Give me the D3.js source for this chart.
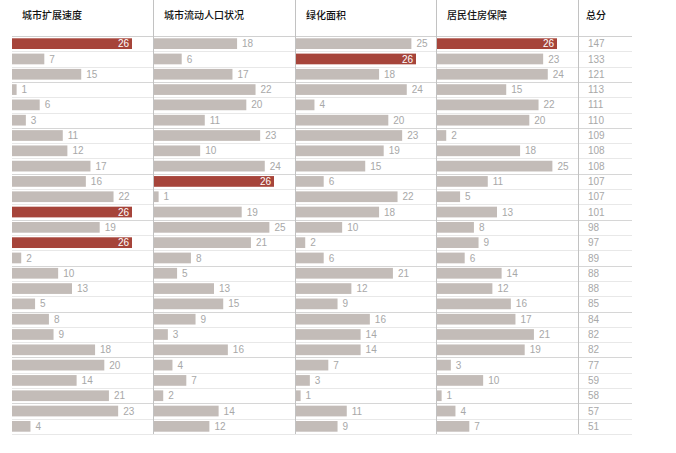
<!DOCTYPE html>
<html><head><meta charset="utf-8">
<script src="https://cdn.jsdelivr.net/npm/d3@7"></script>
<style>
body{margin:0;background:#fff;}
svg{display:block;font-family:"Liberation Sans","Noto Sans CJK SC",Arial,sans-serif;}
</style></head>
<body><svg id="c" width="676" height="453"></svg>
<script>
const headers = ["城市扩展速度","城市流动人口状况","绿化面积","居民住房保障"];
const totalHeader = "总分";
const expansion = [26,7,15,1,6,3,11,12,17,16,22,26,19,26,2,10,13,5,8,9,18,20,14,21,23,4];
const floating = [18,6,17,22,20,11,23,10,24,26,1,19,25,21,8,5,13,15,9,3,16,4,7,2,14,12];
const green = [25,26,18,24,4,20,23,19,15,6,22,18,10,2,6,21,12,9,16,14,14,7,3,1,11,9];
const housing = [26,23,24,15,22,20,2,18,25,11,5,13,8,9,6,14,12,16,17,21,19,3,10,1,4,7];
const totals = [147,133,121,113,111,110,109,108,108,107,107,101,98,97,89,88,88,85,84,82,82,77,59,58,57,51];
const maxValue = 26;

(function () {
const series = [expansion, floating, green, housing];
const svg = d3.select("#c");
const n = totals.length;
const yTop = 36, yBottom = 434;
const colStarts = [12, 154, 296, 437];
const totalX = 578;
const xRight = 632;
const y = d3.scaleBand().domain(d3.range(n)).range([yTop, yBottom]).paddingInner(0.3).paddingOuter(0.15);
const x = d3.scaleLinear().domain([0, maxValue]).range([0, 120]);
const grey = "#c3bcb8", red = "#a6443a";

// row lines
const lineYs = d3.range(n + 1).map(i => yTop + i * (yBottom - yTop) / n);
svg.append("g").selectAll("line").data(lineYs).join("line")
  .attr("x1", 12).attr("x2", xRight)
  .attr("y1", d => Math.round(d) + 0.5).attr("y2", d => Math.round(d) + 0.5)
  .attr("stroke", (d, i) => i === 0 ? "#d0d0d0" : (i % 3 === 0 ? "#d6d6d6" : "#e8e8e8"))
  .attr("stroke-width", 1);

// vertical separators
svg.append("g").selectAll("line").data([153, 295, 436, totalX]).join("line")
  .attr("x1", d => d + 0.5).attr("x2", d => d + 0.5)
  .attr("y1", 0).attr("y2", yBottom)
  .attr("stroke", "#c2c2c2").attr("stroke-width", 1);

// headers
svg.append("g").selectAll("text").data(headers).join("text")
  .attr("x", (d, i) => colStarts[i] + 10).attr("y", 19)
  .attr("font-size", 10).attr("fill", "#111").attr("font-weight", 500)
  .attr("font-family", "'Noto Sans CJK SC',sans-serif")
  .text(d => d);
svg.append("text").attr("x", 586).attr("y", 19)
  .attr("font-size", 10).attr("fill", "#111").attr("font-weight", 500)
  .attr("font-family", "'Noto Sans CJK SC',sans-serif")
  .text(totalHeader);

// bars
series.forEach((vals, ci) => {
  const g = svg.append("g").attr("transform", `translate(${colStarts[ci]},0)`);
  g.selectAll("rect").data(vals).join("rect")
    .attr("x", 0).attr("y", (d, i) => y(i))
    .attr("width", d => x(d)).attr("height", y.bandwidth())
    .attr("fill", d => d === maxValue ? red : grey);
  g.selectAll("text").data(vals).join("text")
    .attr("x", d => d === maxValue ? x(d) - 3 : x(d) + 5)
    .attr("y", (d, i) => y(i) + y.bandwidth() / 2)
    .attr("dy", "0.36em")
    .attr("text-anchor", d => d === maxValue ? "end" : "start")
    .attr("font-size", 10)
    .attr("fill", d => d === maxValue ? "#fff" : "#a8a8a8")
    .text(d => d);
});

// totals
svg.append("g").selectAll("text").data(totals).join("text")
  .attr("x", 588).attr("y", (d, i) => y(i) + y.bandwidth() / 2)
  .attr("dy", "0.36em").attr("font-size", 10).attr("fill", "#a8a8a8")
  .text(d => d);
})();
</script></body></html>
